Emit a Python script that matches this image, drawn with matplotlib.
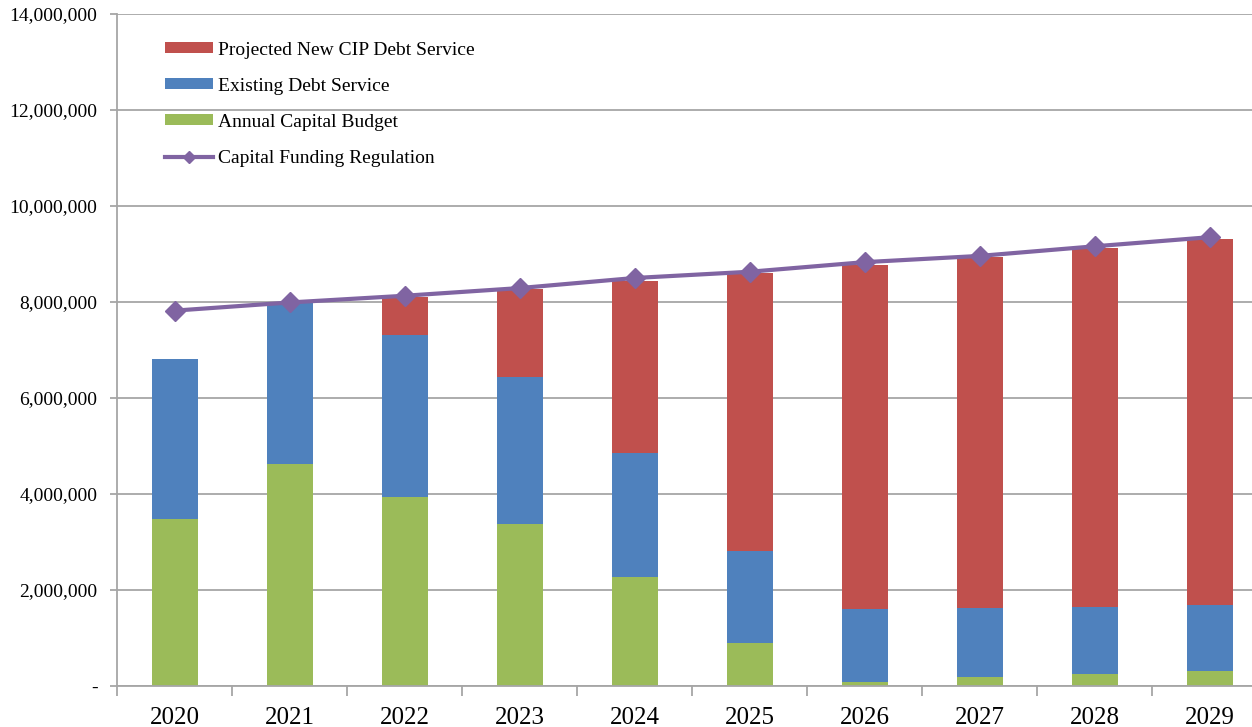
import matplotlib
matplotlib.use("Agg")
import matplotlib.pyplot as plt
import numpy as np
from matplotlib.ticker import FuncFormatter, FixedLocator
from matplotlib.lines import Line2D
from matplotlib.patches import Patch

years = ["2020", "2021", "2022", "2023", "2024", "2025", "2026", "2027", "2028", "2029"]
annual_capital_budget = [3470000, 4620000, 3930000, 3370000, 2270000, 890000, 90000, 180000, 250000, 320000]
existing_debt_service = [3340000, 3350000, 3380000, 3070000, 2580000, 1920000, 1520000, 1440000, 1400000, 1370000]
projected_new_cip = [0, 0, 800000, 1830000, 3580000, 5790000, 7160000, 7310000, 7470000, 7630000]
capital_funding_regulation = [7820000, 7990000, 8130000, 8290000, 8500000, 8630000, 8830000, 8960000, 9160000, 9350000]

c_red = "#C0504D"
c_blue = "#4F81BD"
c_green = "#9BBB59"
c_purple = "#8064A2"
grid_c = "#A6A6A6"

plt.rcParams['font.family'] = ['Liberation Serif', 'DejaVu Serif']

fig = plt.figure(figsize=(12.52, 7.27), dpi=100)
left = 117 / 1252
bottom = 1 - 686 / 727
top = 1 - 14 / 727
width = (1267 - 117) / 1252
ax = fig.add_axes([left, bottom, width, top - bottom])

x = np.arange(len(years))
bw = 0.4
g = np.array(annual_capital_budget)
b = np.array(existing_debt_service)
r = np.array(projected_new_cip)
ax.bar(x, g, bw, color=c_green, zorder=2)
ax.bar(x, b, bw, bottom=g, color=c_blue, zorder=2)
ax.bar(x, r, bw, bottom=g + b, color=c_red, zorder=2)
ax.plot(x, capital_funding_regulation, color=c_purple, lw=3, marker='D', ms=10,
        zorder=3, solid_capstyle='butt')

ax.set_xlim(-0.5, len(years) - 0.5)
ax.set_ylim(0, 14000000)
ax.set_yticks(np.arange(0, 14000001, 2000000))
ax.yaxis.set_major_formatter(FuncFormatter(lambda v, p: "-" if v == 0 else f"{int(v):,}"))
ax.grid(axis='y', color=grid_c, lw=1.3, zorder=0)
ax.set_axisbelow(True)

ax.set_xticks(x)
ax.set_xticklabels(years)
ax.xaxis.set_minor_locator(FixedLocator(np.arange(-0.5, len(years), 1.0)))
ax.tick_params(axis='x', which='major', length=0, pad=15, labelsize=18)
ax.tick_params(axis='x', which='minor', length=7, width=1.3, color=grid_c, direction='out')
ax.tick_params(axis='y', length=5, width=1.3, color=grid_c, labelsize=14, pad=9)

for s in ['top', 'right']:
    ax.spines[s].set_visible(False)
for s in ['left', 'bottom']:
    ax.spines[s].set_color(grid_c)
    ax.spines[s].set_linewidth(1.3)

handles = [
    Patch(facecolor=c_red, label="Projected New CIP Debt Service"),
    Patch(facecolor=c_blue, label="Existing Debt Service"),
    Patch(facecolor=c_green, label="Annual Capital Budget"),
    Line2D([0], [0], color=c_purple, lw=3, marker='D', ms=6, label="Capital Funding Regulation"),
]
leg = ax.legend(handles=handles, loc='upper left', bbox_to_anchor=(0.0417, 0.959),
                frameon=False, fontsize=14, handlelength=2.45, handleheight=0.47,
                handletextpad=0.3, labelspacing=0.98, borderpad=0, borderaxespad=0)

fig.savefig("out.png", dpi=100)
